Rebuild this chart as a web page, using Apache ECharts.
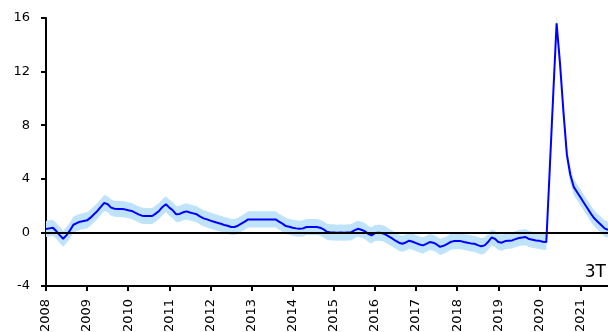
<!DOCTYPE html>
<html>
<head>
<meta charset="utf-8">
<script src="https://cdn.jsdelivr.net/npm/echarts@6/dist/echarts.min.js"></script>
<style>
  html, body { margin: 0; padding: 0; background: #fff; }
  #chart { width: 608px; height: 332px; }
</style>
</head>
<body>
<div id="chart"></div>
<script>
// Monthly series, January 2008 to September 2021
const startYear = 2008;
const values = [
  0.25, 0.3, 0.35, 0.1, -0.2, -0.47, -0.2, 0.15, 0.57, 0.7, 0.8, 0.85,
  0.9, 1.1, 1.35, 1.6, 1.9, 2.2, 2.1, 1.85, 1.77, 1.75, 1.75, 1.72,
  1.65, 1.6, 1.47, 1.35, 1.25, 1.22, 1.22, 1.22, 1.4, 1.6, 1.9, 2.1,
  1.85, 1.65, 1.35, 1.38, 1.5, 1.57, 1.48, 1.42, 1.35, 1.18, 1.05, 0.97,
  0.88, 0.8, 0.72, 0.65, 0.55, 0.5, 0.4, 0.4, 0.5, 0.65, 0.8, 0.97,
  0.97, 0.97, 0.97, 0.97, 0.97, 0.97, 0.97, 0.97, 0.8, 0.65, 0.47, 0.42,
  0.35, 0.3, 0.27, 0.3, 0.4, 0.4, 0.4, 0.4, 0.35, 0.22, 0.05, 0.0,
  0.0, -0.02, 0.0, -0.02, 0.0, 0.0, 0.15, 0.27, 0.2, 0.1, -0.1, -0.22,
  -0.05, -0.02, -0.05, -0.15, -0.3, -0.45, -0.62, -0.77, -0.85, -0.75, -0.62, -0.7,
  -0.8, -0.9, -0.97, -0.85, -0.72, -0.77, -0.9, -1.08, -1.0, -0.88, -0.72, -0.65,
  -0.65, -0.65, -0.72, -0.77, -0.82, -0.85, -0.95, -1.04, -0.97, -0.72, -0.38, -0.47,
  -0.72, -0.77, -0.65, -0.62, -0.6, -0.5, -0.42, -0.38, -0.35, -0.5, -0.55, -0.6,
  -0.63, -0.7, -0.72, 4.7, 10.2, 15.6, 12.6, 9.0, 5.8, 4.3, 3.4, 3.0,
  2.6, 2.2, 1.8, 1.4, 1.05, 0.8, 0.55, 0.3, 0.2
];
// Half-width of the shaded uncertainty band
const bandHalfWidth = 0.6;
const yTicks = [-4, 0, 4, 8, 12, 16];
const cornerNote = '3T';

const months = values.map((_, i) => {
  const y = startYear + Math.floor(i / 12);
  const m = (i % 12) + 1;
  return y + '-' + (m < 10 ? '0' + m : m);
});
const bandLower = values.map(v => v - bandHalfWidth);
const bandSize = values.map(() => 2 * bandHalfWidth);
const isYearStart = (idx) => idx % 12 === 0;

// Year labels sit under each January tick, written bottom-to-top
const yearLabels = [];
months.forEach((m, i) => { if (isYearStart(i)) yearLabels.push([i, m.slice(0, 4)]); });

const chart = echarts.init(document.getElementById('chart'), null, { renderer: 'canvas' });
chart.setOption({
  animation: false,
  backgroundColor: '#ffffff',
  grid: { left: 46, right: 0, top: 18, bottom: 46, outerBoundsMode: 'none' },
  xAxis: {
    type: 'category',
    data: months,
    boundaryGap: false,
    axisLine: { onZero: false, lineStyle: { color: '#000', width: 2 } },
    axisTick: { interval: isYearStart, length: 5, lineStyle: { color: '#000', width: 2 } },
    axisLabel: { show: false },
    splitLine: { show: false }
  },
  yAxis: {
    type: 'value',
    min: yTicks[0],
    max: yTicks[yTicks.length - 1],
    interval: 4,
    axisLine: { show: true, lineStyle: { color: '#000', width: 2 } },
    axisTick: { show: true, length: 5, lineStyle: { color: '#000', width: 2 } },
    axisLabel: {
      margin: 16,
      color: '#000',
      fontFamily: 'DejaVu Sans',
      fontSize: 13
    },
    splitLine: { show: false }
  },
  graphic: [{
    type: 'text',
    right: 2,
    top: 264,
    style: { text: cornerNote, fill: '#000', font: '17px "DejaVu Sans"' }
  }],
  series: [
    {
      name: 'lower',
      type: 'line',
      data: bandLower,
      stack: 'band',
      stackStrategy: 'all',
      symbol: 'none',
      lineStyle: { opacity: 0 },
      silent: true,
      z: 1
    },
    {
      name: 'band',
      type: 'line',
      data: bandSize,
      stack: 'band',
      stackStrategy: 'all',
      symbol: 'none',
      lineStyle: { opacity: 0 },
      areaStyle: { color: '#bfe3fa', opacity: 1 },
      silent: true,
      z: 1
    },
    {
      name: 'value',
      type: 'line',
      data: values,
      symbol: 'none',
      lineStyle: { color: '#0000ff', width: 2 },
      z: 3,
      markLine: {
        silent: true,
        symbol: 'none',
        label: { show: false },
        lineStyle: { color: '#000', width: 2, type: 'solid' },
        data: [{ yAxis: 0 }]
      }
    },
    {
      name: 'years',
      type: 'custom',
      data: yearLabels,
      clip: false,
      silent: true,
      z: 5,
      renderItem: (params, api) => {
        const p = api.coord([api.value(0), yTicks[0]]);
        return {
          type: 'text',
          x: p[0],
          y: p[1] + 13,
          rotation: Math.PI / 2,
          style: {
            text: yearLabels[params.dataIndex][1],
            align: 'right',
            verticalAlign: 'middle',
            fill: '#000',
            font: '13px "DejaVu Sans"'
          }
        };
      }
    }
  ]
});
</script>
</body>
</html>
